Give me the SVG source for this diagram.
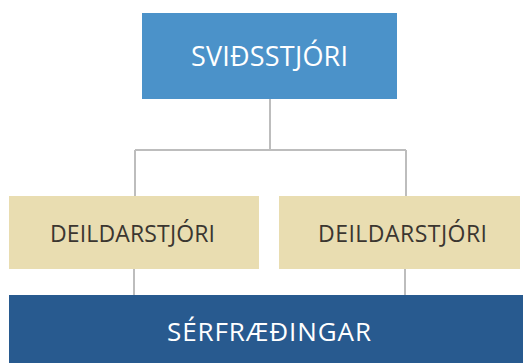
<svg xmlns="http://www.w3.org/2000/svg" width="523" height="363" viewBox="0 0 523 363">
<style>
text{font-family:"Open Sans","Noto Sans","Liberation Sans",sans-serif;text-anchor:middle}
.lt{fill:#ffffff}
.dk{fill:#3b3630}
.tan{fill:#e9ddb1}
.ln{stroke:#bdbdbd;stroke-width:2;fill:none}
</style>
<rect width="523" height="363" fill="#ffffff"/>
<g id="connectors">
<path class="ln" d="M270 99V150M135 150H406M135 150V196M406 150V196M134 269V295M405 269V295"/>
</g>
<g id="svidsstjori">
<rect x="142" y="13" width="255" height="86" fill="#4b92c9"/>
<text class="lt" x="269.5" y="66" font-size="27" textLength="157">SVIÐSSTJÓRI</text>
</g>
<g id="deildarstjori1">
<rect class="tan" x="9" y="196" width="250" height="73"/>
<text class="dk" x="132.5" y="242" font-size="23" textLength="165">DEILDARSTJÓRI</text>
</g>
<g id="deildarstjori2">
<rect class="tan" x="279" y="196" width="241" height="73"/>
<text class="dk" x="402.5" y="242" font-size="23" textLength="169">DEILDARSTJÓRI</text>
</g>
<g id="serfraedingar">
<rect x="9" y="295" width="514" height="68" fill="#285a8f"/>
<text class="lt" x="269" y="341" font-size="26" textLength="204">SÉRFRÆÐINGAR</text>
</g>
</svg>
